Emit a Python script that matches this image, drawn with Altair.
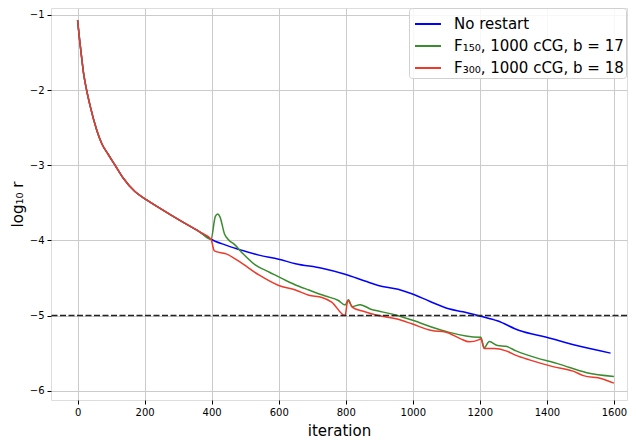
import altair as alt
import pandas as pd

# shared part (before restart at ~400)
common_it = [0, 6, 13, 18, 23, 38, 57, 72, 92, 112, 136, 171, 206, 245, 304, 364, 398]
common_v = [-1.07, -1.33, -1.60, -1.78, -1.91, -2.22, -2.53, -2.71, -2.86, -3.0, -3.17,
            -3.35, -3.46, -3.57, -3.73, -3.885, -3.985]

blue_it = [440, 482, 541, 600, 650, 729, 798, 857, 897, 956, 997, 1050, 1107, 1150, 1203,
           1252, 1318, 1399, 1489, 1590]
blue_v = [-4.06, -4.12, -4.196, -4.25, -4.31, -4.37, -4.45, -4.54, -4.60, -4.65, -4.71,
          -4.81, -4.91, -4.95, -5.01, -5.07, -5.20, -5.29, -5.40, -5.50]

green_it = [411, 418, 425, 438, 452, 467, 492, 531, 571, 620, 660, 690, 739, 778, 798, 808,
            819, 843, 877, 897, 946, 997, 1097, 1198, 1203, 1213, 1228, 1253, 1278, 1308,
            1338, 1439, 1519, 1600]
green_v = [-3.68, -3.65, -3.69, -3.91, -4.00, -4.05, -4.17, -4.33, -4.42, -4.53, -4.61,
           -4.66, -4.74, -4.80, -4.86, -4.79, -4.88, -4.855, -4.92, -4.94, -4.99, -5.06,
           -5.21, -5.29, -5.29, -5.43, -5.345, -5.40, -5.41, -5.47, -5.52, -5.65, -5.76, -5.81]

red_it = [408, 443, 482, 541, 600, 650, 690, 729, 758, 798, 806, 820, 857, 897, 956, 997,
          1057, 1097, 1143, 1168, 1198, 1203, 1213, 1243, 1278, 1308, 1348, 1418, 1478,
          1509, 1564, 1600]
red_v = [-4.14, -4.18, -4.28, -4.46, -4.60, -4.66, -4.73, -4.76, -4.82, -5.0, -4.80, -4.89,
         -4.95, -5.0, -5.05, -5.11, -5.2, -5.22, -5.31, -5.35, -5.32, -5.31, -5.44, -5.44,
         -5.47, -5.53, -5.59, -5.68, -5.74, -5.80, -5.84, -5.90]

names = ["No restart", "F₁₅₀, 1000 cCG, b = 17", "F₃₀₀, 1000 cCG, b = 18"]
colors = ["#0000ff", "#3b8b2f", "#ec3a2b"]
threshold = [-5]
x_ticks = [0, 200, 400, 600, 800, 1000, 1200, 1400, 1600]
y_ticks = [-1, -2, -3, -4, -5, -6]

def frame(name, its, vs):
    return pd.DataFrame({"iteration": common_it + its, "value": common_v + vs, "series": name})

dfs = [frame(names[0], blue_it, blue_v), frame(names[1], green_it, green_v),
       frame(names[2], red_it, red_v)]

xs = alt.Scale(domain=[-79.3, 1639], nice=False, zero=False)
ys = alt.Scale(domain=[-6.124, -0.907], nice=False, zero=False)
cs = alt.Scale(domain=names, range=colors)

xaxis = alt.Axis(values=x_ticks, title="iteration", format="d",
                 grid=True, gridColor="#cbcbcb", domain=False, tickColor="#000", tickSize=4,
                 labelFontSize=10, labelColor="#000", titleFontSize=15, titleFontWeight="normal",
                 titleColor="#000", labelPadding=3, titlePadding=6, labelFlush=False)
yaxis = alt.Axis(values=y_ticks, title="log₁₀ r", grid=True,
                 gridColor="#cbcbcb", domain=False, tickColor="#000", tickSize=4,
                 labelFontSize=10, labelColor="#000", titleFontSize=15,
                 titleFontWeight="normal", titleColor="#000", labelPadding=3, titlePadding=4)
legend = alt.Legend(
    title=None, orient="none", legendX=358, legendY=0, padding=2,
    strokeColor="#d0d0d0", fillColor="rgba(255,255,255,0.85)", cornerRadius=3,
    symbolType="stroke", symbolSize=676, symbolStrokeWidth=2, symbolOffset=3,
    labelFontSize=15, labelFont="DejaVu Sans", labelColor="#000", labelOffset=12,
    labelLimit=400, rowPadding=-3)

layers = []
for d in dfs:
    layers.append(alt.Chart(d).mark_line(strokeWidth=1.5, clip=True, interpolate="monotone").encode(
        x=alt.X("iteration:Q", scale=xs, axis=xaxis),
        y=alt.Y("value:Q", scale=ys, axis=yaxis),
        color=alt.Color("series:N", scale=cs, legend=legend),
    ))

rule = alt.Chart(pd.DataFrame({"y": threshold})).mark_rule(
    color="#222", strokeWidth=1.5, strokeDash=[6, 2.5]).encode(y=alt.Y("y:Q", scale=ys, axis=yaxis))

chart = alt.layer(*layers, rule).properties(
    width=576, height=392, autosize=alt.AutoSizeParams(type="none"),
    padding={"left": 43, "top": 0, "right": 1, "bottom": 40}
).configure_view(stroke="#333", strokeWidth=1).configure(font="DejaVu Sans")

chart.save("out.html", embed_options={"renderer": "svg", "actions": False})
